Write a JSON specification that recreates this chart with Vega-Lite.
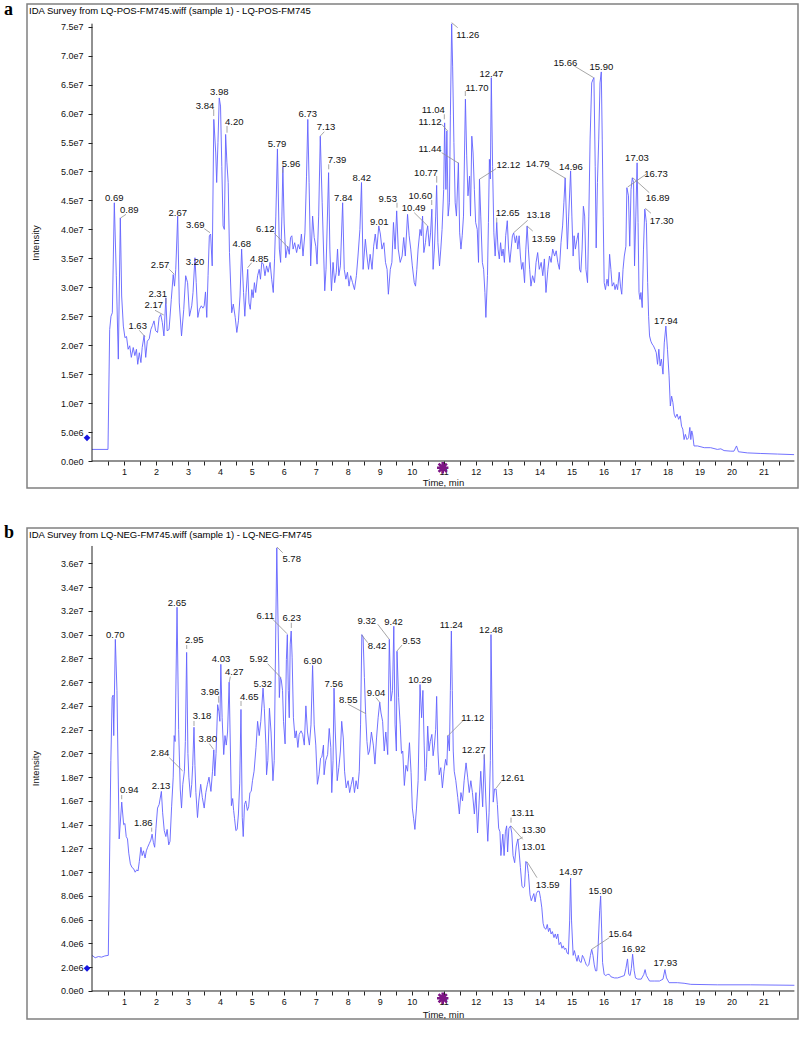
{
"$schema": "https://vega.github.io/schema/vega-lite/v6.json",
"background": "white",
"padding": {"left": 3, "top": 0, "right": 0, "bottom": 0},
"autosize": {"type": "pad"},
"spacing": 40,
"bounds": "flush",
"config": {
  "view": {"stroke": "#808080", "strokeWidth": 1.5},
  "font": "Liberation Sans",
  "axis": {"domain": false, "grid": false, "labelOverlap": false, "labelFlush": false, "labelFont": "Liberation Sans", "labelFontSize": 9, "labelColor": "#111", "tickColor": "#222", "tickSize": 4, "titleFont": "Liberation Sans", "titleFontSize": 9.5, "titleFontWeight": "normal", "titleColor": "#111"}
},
"datasets": {
"pos": [{"t":0,"I":0.2e7},{"t":0.5,"I":0.2e7},{"t":0.553,"I":2.27e7},{"t":0.594,"I":2.5e7},{"t":0.636,"I":2.56e7},{"t":0.698,"I":4.46e7},{"t":0.76,"I":3.2e7},{"t":0.823,"I":1.76e7},{"t":0.886,"I":4.2e7},{"t":0.928,"I":2.85e7},{"t":0.98,"I":2.33e7},{"t":1.03,"I":2.13e7},{"t":1.08,"I":2.15e7},{"t":1.13,"I":1.93e7},{"t":1.18,"I":1.99e7},{"t":1.23,"I":1.79e7},{"t":1.29,"I":1.96e7},{"t":1.34,"I":1.82e7},{"t":1.39,"I":1.93e7},{"t":1.43,"I":1.67e7},{"t":1.48,"I":1.87e7},{"t":1.53,"I":1.7e7},{"t":1.57,"I":1.96e7},{"t":1.63,"I":2.17e7},{"t":1.68,"I":1.79e7},{"t":1.73,"I":2.07e7},{"t":1.79,"I":2.11e7},{"t":1.84,"I":2.27e7},{"t":1.89,"I":2.34e7},{"t":1.94,"I":2.42e7},{"t":1.99,"I":2.25e7},{"t":2.05,"I":2.22e7},{"t":2.1,"I":2.48e7},{"t":2.15,"I":2.53e7},{"t":2.2,"I":2.39e7},{"t":2.25,"I":2.16e7},{"t":2.31,"I":2.82e7},{"t":2.35,"I":2.25e7},{"t":2.41,"I":2.27e7},{"t":2.48,"I":2.79e7},{"t":2.54,"I":3.22e7},{"t":2.58,"I":3.02e7},{"t":2.62,"I":3.31e7},{"t":2.68,"I":4.23e7},{"t":2.73,"I":2.73e7},{"t":2.8,"I":2.16e7},{"t":2.87,"I":2.62e7},{"t":2.93,"I":3.2e7},{"t":2.99,"I":3.08e7},{"t":3.05,"I":2.5e7},{"t":3.12,"I":2.68e7},{"t":3.16,"I":2.91e7},{"t":3.22,"I":3.51e7},{"t":3.26,"I":3.08e7},{"t":3.31,"I":2.48e7},{"t":3.36,"I":2.62e7},{"t":3.42,"I":2.68e7},{"t":3.47,"I":2.64e7},{"t":3.51,"I":2.68e7},{"t":3.55,"I":2.92e7},{"t":3.59,"I":2.48e7},{"t":3.63,"I":3.2e7},{"t":3.67,"I":3.89e7},{"t":3.71,"I":3.92e7},{"t":3.76,"I":3.37e7},{"t":3.81,"I":5.9e7},{"t":3.87,"I":5.32e7},{"t":3.9,"I":4.81e7},{"t":3.94,"I":5.5e7},{"t":3.98,"I":6.27e7},{"t":4.02,"I":6.13e7},{"t":4.06,"I":5.09e7},{"t":4.1,"I":4.06e7},{"t":4.14,"I":4.0e7},{"t":4.18,"I":5.64e7},{"t":4.22,"I":5.15e7},{"t":4.26,"I":4.81e7},{"t":4.3,"I":3.6e7},{"t":4.37,"I":2.56e7},{"t":4.42,"I":2.71e7},{"t":4.48,"I":2.48e7},{"t":4.53,"I":2.22e7},{"t":4.58,"I":2.42e7},{"t":4.63,"I":2.85e7},{"t":4.68,"I":3.66e7},{"t":4.74,"I":2.91e7},{"t":4.78,"I":2.5e7},{"t":4.82,"I":2.91e7},{"t":4.87,"I":3.31e7},{"t":4.91,"I":2.73e7},{"t":4.95,"I":2.62e7},{"t":5.0,"I":2.96e7},{"t":5.04,"I":2.82e7},{"t":5.08,"I":3.08e7},{"t":5.12,"I":2.91e7},{"t":5.18,"I":3.2e7},{"t":5.23,"I":3.31e7},{"t":5.27,"I":3.14e7},{"t":5.31,"I":3.43e7},{"t":5.36,"I":3.4e7},{"t":5.41,"I":3.2e7},{"t":5.46,"I":3.37e7},{"t":5.51,"I":3.26e7},{"t":5.57,"I":3.43e7},{"t":5.62,"I":3.14e7},{"t":5.67,"I":2.91e7},{"t":5.71,"I":3.49e7},{"t":5.75,"I":4.23e7},{"t":5.8,"I":5.39e7},{"t":5.86,"I":3.66e7},{"t":5.9,"I":3.43e7},{"t":5.94,"I":4.23e7},{"t":5.97,"I":5.08e7},{"t":6.01,"I":4.11e7},{"t":6.06,"I":3.51e7},{"t":6.12,"I":3.71e7},{"t":6.17,"I":3.57e7},{"t":6.21,"I":3.86e7},{"t":6.25,"I":3.89e7},{"t":6.29,"I":3.66e7},{"t":6.34,"I":3.77e7},{"t":6.4,"I":3.6e7},{"t":6.45,"I":3.74e7},{"t":6.5,"I":3.66e7},{"t":6.55,"I":3.92e7},{"t":6.6,"I":3.54e7},{"t":6.66,"I":3.94e7},{"t":6.71,"I":4.92e7},{"t":6.75,"I":5.9e7},{"t":6.79,"I":4.81e7},{"t":6.84,"I":3.37e7},{"t":6.9,"I":4.23e7},{"t":6.95,"I":3.86e7},{"t":7.0,"I":3.71e7},{"t":7.04,"I":3.4e7},{"t":7.09,"I":4.23e7},{"t":7.14,"I":5.61e7},{"t":7.2,"I":4.46e7},{"t":7.28,"I":2.94e7},{"t":7.32,"I":3.31e7},{"t":7.4,"I":4.98e7},{"t":7.44,"I":3.66e7},{"t":7.49,"I":2.94e7},{"t":7.54,"I":3.43e7},{"t":7.59,"I":3.08e7},{"t":7.64,"I":3.26e7},{"t":7.68,"I":3.66e7},{"t":7.72,"I":3.2e7},{"t":7.77,"I":3.37e7},{"t":7.84,"I":4.46e7},{"t":7.89,"I":3.31e7},{"t":7.94,"I":3.14e7},{"t":7.99,"I":3.26e7},{"t":8.04,"I":3.02e7},{"t":8.09,"I":3.2e7},{"t":8.15,"I":3.08e7},{"t":8.21,"I":2.96e7},{"t":8.27,"I":3.2e7},{"t":8.32,"I":3.54e7},{"t":8.38,"I":4.0e7},{"t":8.43,"I":4.81e7},{"t":8.48,"I":3.31e7},{"t":8.55,"I":3.83e7},{"t":8.6,"I":3.54e7},{"t":8.65,"I":3.31e7},{"t":8.7,"I":3.57e7},{"t":8.76,"I":3.31e7},{"t":8.81,"I":3.71e7},{"t":8.86,"I":3.92e7},{"t":8.91,"I":3.66e7},{"t":8.97,"I":4.06e7},{"t":9.02,"I":3.92e7},{"t":9.07,"I":3.66e7},{"t":9.13,"I":3.77e7},{"t":9.18,"I":3.43e7},{"t":9.23,"I":3.31e7},{"t":9.27,"I":2.88e7},{"t":9.33,"I":3.31e7},{"t":9.38,"I":3.43e7},{"t":9.43,"I":4.12e7},{"t":9.48,"I":3.66e7},{"t":9.53,"I":4.32e7},{"t":9.58,"I":3.66e7},{"t":9.64,"I":3.43e7},{"t":9.7,"I":3.54e7},{"t":9.75,"I":3.86e7},{"t":9.8,"I":3.54e7},{"t":9.87,"I":4.26e7},{"t":9.92,"I":3.89e7},{"t":9.97,"I":3.66e7},{"t":10.02,"I":3.37e7},{"t":10.08,"I":3.08e7},{"t":10.12,"I":3.02e7},{"t":10.16,"I":3.31e7},{"t":10.2,"I":3.66e7},{"t":10.26,"I":4.0e7},{"t":10.3,"I":3.89e7},{"t":10.34,"I":4.23e7},{"t":10.38,"I":3.6e7},{"t":10.43,"I":3.77e7},{"t":10.46,"I":3.94e7},{"t":10.5,"I":4.06e7},{"t":10.55,"I":3.71e7},{"t":10.59,"I":3.94e7},{"t":10.63,"I":4.35e7},{"t":10.67,"I":3.31e7},{"t":10.71,"I":3.66e7},{"t":10.75,"I":4.23e7},{"t":10.78,"I":4.76e7},{"t":10.82,"I":3.77e7},{"t":10.87,"I":3.37e7},{"t":10.91,"I":3.66e7},{"t":10.95,"I":4.0e7},{"t":11.0,"I":4.69e7},{"t":11.03,"I":5.84e7},{"t":11.07,"I":4.69e7},{"t":11.1,"I":5.7e7},{"t":11.14,"I":4.23e7},{"t":11.18,"I":4.46e7},{"t":11.21,"I":5.96e7},{"t":11.25,"I":7.55e7},{"t":11.28,"I":6.82e7},{"t":11.32,"I":5.5e7},{"t":11.36,"I":4.46e7},{"t":11.4,"I":4.23e7},{"t":11.46,"I":5.15e7},{"t":11.5,"I":3.94e7},{"t":11.54,"I":3.66e7},{"t":11.58,"I":3.89e7},{"t":11.62,"I":4.23e7},{"t":11.68,"I":6.25e7},{"t":11.72,"I":5.27e7},{"t":11.76,"I":4.58e7},{"t":11.81,"I":4.92e7},{"t":11.84,"I":4.23e7},{"t":11.88,"I":5.61e7},{"t":11.92,"I":5.32e7},{"t":11.96,"I":4.69e7},{"t":12.0,"I":4.12e7},{"t":12.05,"I":4.0e7},{"t":12.09,"I":3.43e7},{"t":12.12,"I":4.87e7},{"t":12.16,"I":4.23e7},{"t":12.21,"I":3.43e7},{"t":12.25,"I":3.31e7},{"t":12.29,"I":2.91e7},{"t":12.32,"I":2.48e7},{"t":12.37,"I":3.2e7},{"t":12.4,"I":4.12e7},{"t":12.43,"I":5.21e7},{"t":12.46,"I":4.87e7},{"t":12.49,"I":6.62e7},{"t":12.53,"I":5.09e7},{"t":12.57,"I":3.94e7},{"t":12.61,"I":3.54e7},{"t":12.66,"I":4.12e7},{"t":12.7,"I":3.66e7},{"t":12.74,"I":3.49e7},{"t":12.78,"I":3.77e7},{"t":12.82,"I":3.54e7},{"t":12.86,"I":3.66e7},{"t":12.9,"I":3.43e7},{"t":12.94,"I":3.89e7},{"t":12.99,"I":4.15e7},{"t":13.03,"I":3.66e7},{"t":13.07,"I":3.43e7},{"t":13.11,"I":3.66e7},{"t":13.15,"I":3.89e7},{"t":13.19,"I":3.94e7},{"t":13.24,"I":3.77e7},{"t":13.28,"I":3.89e7},{"t":13.32,"I":3.66e7},{"t":13.36,"I":3.89e7},{"t":13.4,"I":3.54e7},{"t":13.44,"I":3.31e7},{"t":13.48,"I":3.43e7},{"t":13.53,"I":3.08e7},{"t":13.57,"I":3.66e7},{"t":13.61,"I":4.06e7},{"t":13.65,"I":3.66e7},{"t":13.69,"I":3.31e7},{"t":13.73,"I":3.02e7},{"t":13.78,"I":3.2e7},{"t":13.84,"I":3.08e7},{"t":13.89,"I":3.43e7},{"t":13.94,"I":3.6e7},{"t":13.99,"I":3.31e7},{"t":14.05,"I":3.43e7},{"t":14.1,"I":3.2e7},{"t":14.15,"I":3.49e7},{"t":14.2,"I":2.91e7},{"t":14.26,"I":3.31e7},{"t":14.31,"I":3.54e7},{"t":14.36,"I":3.43e7},{"t":14.41,"I":3.66e7},{"t":14.47,"I":3.54e7},{"t":14.52,"I":3.63e7},{"t":14.57,"I":3.43e7},{"t":14.62,"I":3.31e7},{"t":14.67,"I":3.77e7},{"t":14.72,"I":4.06e7},{"t":14.76,"I":4.46e7},{"t":14.8,"I":4.89e7},{"t":14.87,"I":3.66e7},{"t":14.91,"I":4.23e7},{"t":14.97,"I":5.01e7},{"t":15.01,"I":4.23e7},{"t":15.05,"I":3.54e7},{"t":15.08,"I":3.89e7},{"t":15.12,"I":3.66e7},{"t":15.17,"I":3.83e7},{"t":15.21,"I":3.94e7},{"t":15.25,"I":3.31e7},{"t":15.29,"I":3.26e7},{"t":15.33,"I":3.66e7},{"t":15.37,"I":4.4e7},{"t":15.41,"I":4.23e7},{"t":15.45,"I":3.31e7},{"t":15.5,"I":3.08e7},{"t":15.54,"I":4.23e7},{"t":15.58,"I":5.56e7},{"t":15.63,"I":6.53e7},{"t":15.67,"I":6.59e7},{"t":15.7,"I":6.62e7},{"t":15.74,"I":5.09e7},{"t":15.77,"I":3.68e7},{"t":15.81,"I":4.81e7},{"t":15.85,"I":5.56e7},{"t":15.89,"I":6.53e7},{"t":15.93,"I":6.72e7},{"t":15.96,"I":5.56e7},{"t":15.99,"I":4.23e7},{"t":16.02,"I":3.08e7},{"t":16.06,"I":2.96e7},{"t":16.11,"I":3.14e7},{"t":16.15,"I":3.02e7},{"t":16.19,"I":3.57e7},{"t":16.23,"I":3.31e7},{"t":16.27,"I":3.02e7},{"t":16.32,"I":3.08e7},{"t":16.36,"I":2.96e7},{"t":16.4,"I":3.05e7},{"t":16.44,"I":2.96e7},{"t":16.49,"I":3.26e7},{"t":16.53,"I":3.02e7},{"t":16.57,"I":2.88e7},{"t":16.61,"I":3.31e7},{"t":16.65,"I":3.54e7},{"t":16.7,"I":3.71e7},{"t":16.73,"I":4.72e7},{"t":16.78,"I":4.58e7},{"t":16.82,"I":3.71e7},{"t":16.86,"I":4.69e7},{"t":16.9,"I":4.89e7},{"t":16.94,"I":4.81e7},{"t":16.97,"I":3.37e7},{"t":17.01,"I":4.23e7},{"t":17.05,"I":5.15e7},{"t":17.08,"I":4.12e7},{"t":17.11,"I":2.91e7},{"t":17.14,"I":2.79e7},{"t":17.17,"I":2.91e7},{"t":17.21,"I":2.65e7},{"t":17.25,"I":3.66e7},{"t":17.29,"I":4.35e7},{"t":17.34,"I":4.12e7},{"t":17.38,"I":3.08e7},{"t":17.41,"I":2.5e7},{"t":17.44,"I":2.16e7},{"t":17.48,"I":2.07e7},{"t":17.52,"I":2.02e7},{"t":17.56,"I":1.99e7},{"t":17.61,"I":1.93e7},{"t":17.65,"I":1.87e7},{"t":17.69,"I":1.67e7},{"t":17.73,"I":1.93e7},{"t":17.77,"I":1.64e7},{"t":17.81,"I":1.76e7},{"t":17.86,"I":1.5e7},{"t":17.9,"I":2.04e7},{"t":17.95,"I":2.33e7},{"t":18.0,"I":1.93e7},{"t":18.05,"I":1.47e7},{"t":18.09,"I":0.95e7},{"t":18.13,"I":1.12e7},{"t":18.17,"I":1.01e7},{"t":18.21,"I":0.81e7},{"t":18.25,"I":0.75e7},{"t":18.3,"I":0.81e7},{"t":18.35,"I":0.72e7},{"t":18.4,"I":0.78e7},{"t":18.44,"I":0.6e7},{"t":18.48,"I":0.55e7},{"t":18.52,"I":0.37e7},{"t":18.56,"I":0.46e7},{"t":18.61,"I":0.37e7},{"t":18.66,"I":0.4e7},{"t":18.7,"I":0.58e7},{"t":18.73,"I":0.37e7},{"t":18.76,"I":0.52e7},{"t":18.79,"I":0.45e7},{"t":18.83,"I":0.26e7},{"t":18.94,"I":0.26e7},{"t":19.15,"I":0.23e7},{"t":19.35,"I":0.23e7},{"t":19.56,"I":0.2e7},{"t":19.67,"I":0.21e7},{"t":19.77,"I":0.18e7},{"t":19.98,"I":0.17e7},{"t":20.08,"I":0.17e7},{"t":20.16,"I":0.26e7},{"t":20.22,"I":0.16e7},{"t":20.5,"I":0.14e7},{"t":20.92,"I":0.13e7},{"t":21.44,"I":0.12e7},{"t":21.96,"I":0.11e7}],
"neg": [{"t":0,"I":0.3e7},{"t":0.1,"I":0.28e7},{"t":0.2,"I":0.29e7},{"t":0.3,"I":0.285e7},{"t":0.4,"I":0.295e7},{"t":0.51,"I":0.3e7},{"t":0.59,"I":1.94e7},{"t":0.63,"I":2.47e7},{"t":0.66,"I":2.49e7},{"t":0.68,"I":2.15e7},{"t":0.73,"I":2.96e7},{"t":0.78,"I":2.53e7},{"t":0.85,"I":1.28e7},{"t":0.93,"I":1.59e7},{"t":0.99,"I":1.4e7},{"t":1.03,"I":1.41e7},{"t":1.07,"I":1.3e7},{"t":1.11,"I":1.28e7},{"t":1.15,"I":1.16e7},{"t":1.2,"I":1.07e7},{"t":1.25,"I":1.04e7},{"t":1.3,"I":1.03e7},{"t":1.35,"I":1.0e7},{"t":1.4,"I":1.02e7},{"t":1.44,"I":1.01e7},{"t":1.48,"I":1.09e7},{"t":1.53,"I":1.21e7},{"t":1.57,"I":1.14e7},{"t":1.61,"I":1.18e7},{"t":1.66,"I":1.12e7},{"t":1.7,"I":1.18e7},{"t":1.74,"I":1.21e7},{"t":1.79,"I":1.24e7},{"t":1.84,"I":1.27e7},{"t":1.88,"I":1.32e7},{"t":1.92,"I":1.25e7},{"t":1.96,"I":1.21e7},{"t":2.0,"I":1.37e7},{"t":2.05,"I":1.54e7},{"t":2.1,"I":1.57e7},{"t":2.17,"I":1.68e7},{"t":2.21,"I":1.5e7},{"t":2.26,"I":1.35e7},{"t":2.31,"I":1.3e7},{"t":2.35,"I":1.36e7},{"t":2.4,"I":1.23e7},{"t":2.44,"I":1.26e7},{"t":2.49,"I":1.55e7},{"t":2.54,"I":1.8e7},{"t":2.57,"I":2.15e7},{"t":2.6,"I":2.1e7},{"t":2.66,"I":3.23e7},{"t":2.71,"I":2.2e7},{"t":2.76,"I":1.7e7},{"t":2.8,"I":1.54e7},{"t":2.84,"I":1.74e7},{"t":2.89,"I":1.85e7},{"t":2.92,"I":2.1e7},{"t":2.96,"I":2.85e7},{"t":3.0,"I":2.0e7},{"t":3.03,"I":1.8e7},{"t":3.08,"I":1.63e7},{"t":3.12,"I":1.74e7},{"t":3.15,"I":1.9e7},{"t":3.19,"I":2.22e7},{"t":3.22,"I":1.9e7},{"t":3.25,"I":1.67e7},{"t":3.3,"I":1.46e7},{"t":3.34,"I":1.6e7},{"t":3.4,"I":1.74e7},{"t":3.45,"I":1.63e7},{"t":3.51,"I":1.54e7},{"t":3.56,"I":1.67e7},{"t":3.61,"I":1.74e7},{"t":3.66,"I":1.8e7},{"t":3.72,"I":1.68e7},{"t":3.77,"I":1.85e7},{"t":3.81,"I":2.03e7},{"t":3.84,"I":1.81e7},{"t":3.88,"I":2.0e7},{"t":3.93,"I":2.41e7},{"t":3.97,"I":2.35e7},{"t":4.0,"I":2.27e7},{"t":4.03,"I":2.75e7},{"t":4.07,"I":2.3e7},{"t":4.12,"I":1.99e7},{"t":4.16,"I":2.15e7},{"t":4.2,"I":2.07e7},{"t":4.24,"I":2.18e7},{"t":4.29,"I":2.6e7},{"t":4.33,"I":2.02e7},{"t":4.36,"I":1.56e7},{"t":4.4,"I":1.62e7},{"t":4.43,"I":1.52e7},{"t":4.46,"I":1.45e7},{"t":4.5,"I":1.35e7},{"t":4.54,"I":1.36e7},{"t":4.58,"I":1.49e7},{"t":4.62,"I":1.75e7},{"t":4.66,"I":2.37e7},{"t":4.7,"I":1.46e7},{"t":4.73,"I":1.3e7},{"t":4.77,"I":1.57e7},{"t":4.81,"I":1.6e7},{"t":4.86,"I":1.52e7},{"t":4.9,"I":1.55e7},{"t":4.94,"I":1.67e7},{"t":4.98,"I":1.68e7},{"t":5.02,"I":1.77e7},{"t":5.07,"I":1.85e7},{"t":5.13,"I":2.05e7},{"t":5.18,"I":2.27e7},{"t":5.23,"I":2.15e7},{"t":5.28,"I":2.27e7},{"t":5.35,"I":2.55e7},{"t":5.39,"I":2.38e7},{"t":5.44,"I":2.07e7},{"t":5.46,"I":1.82e7},{"t":5.5,"I":1.94e7},{"t":5.55,"I":2.38e7},{"t":5.6,"I":2.18e7},{"t":5.66,"I":1.77e7},{"t":5.7,"I":1.94e7},{"t":5.75,"I":3.09e7},{"t":5.78,"I":3.73e7},{"t":5.82,"I":3.09e7},{"t":5.86,"I":2.47e7},{"t":5.89,"I":2.64e7},{"t":5.92,"I":2.62e7},{"t":5.96,"I":2.53e7},{"t":5.99,"I":2.27e7},{"t":6.04,"I":2.08e7},{"t":6.08,"I":2.79e7},{"t":6.11,"I":3.0e7},{"t":6.14,"I":2.53e7},{"t":6.17,"I":2.3e7},{"t":6.2,"I":2.92e7},{"t":6.23,"I":3.03e7},{"t":6.26,"I":2.81e7},{"t":6.3,"I":2.3e7},{"t":6.35,"I":2.13e7},{"t":6.39,"I":2.19e7},{"t":6.44,"I":2.05e7},{"t":6.48,"I":2.16e7},{"t":6.54,"I":2.19e7},{"t":6.59,"I":2.16e7},{"t":6.64,"I":2.07e7},{"t":6.69,"I":2.4e7},{"t":6.74,"I":2.18e7},{"t":6.8,"I":2.07e7},{"t":6.85,"I":2.24e7},{"t":6.9,"I":2.74e7},{"t":6.95,"I":2.24e7},{"t":7.0,"I":2.07e7},{"t":7.05,"I":1.74e7},{"t":7.1,"I":1.82e7},{"t":7.15,"I":1.96e7},{"t":7.19,"I":1.97e7},{"t":7.24,"I":2.07e7},{"t":7.26,"I":1.82e7},{"t":7.31,"I":1.94e7},{"t":7.37,"I":1.99e7},{"t":7.42,"I":2.21e7},{"t":7.47,"I":2.05e7},{"t":7.5,"I":1.67e7},{"t":7.54,"I":1.94e7},{"t":7.57,"I":2.55e7},{"t":7.61,"I":2.18e7},{"t":7.67,"I":1.77e7},{"t":7.72,"I":1.88e7},{"t":7.77,"I":2.02e7},{"t":7.81,"I":2.27e7},{"t":7.86,"I":2.13e7},{"t":7.9,"I":1.85e7},{"t":7.95,"I":1.71e7},{"t":8.01,"I":1.77e7},{"t":8.06,"I":1.67e7},{"t":8.11,"I":1.74e7},{"t":8.16,"I":1.8e7},{"t":8.21,"I":1.67e7},{"t":8.26,"I":1.77e7},{"t":8.31,"I":1.7e7},{"t":8.36,"I":1.85e7},{"t":8.4,"I":2.24e7},{"t":8.44,"I":3.0e7},{"t":8.48,"I":2.98e7},{"t":8.52,"I":2.64e7},{"t":8.56,"I":2.33e7},{"t":8.6,"I":2.1e7},{"t":8.64,"I":1.99e7},{"t":8.68,"I":2.02e7},{"t":8.74,"I":2.18e7},{"t":8.8,"I":2.07e7},{"t":8.85,"I":1.91e7},{"t":8.9,"I":2.13e7},{"t":8.95,"I":2.3e7},{"t":9.0,"I":2.43e7},{"t":9.04,"I":2.34e7},{"t":9.09,"I":2.27e7},{"t":9.14,"I":2.02e7},{"t":9.19,"I":2.18e7},{"t":9.25,"I":1.99e7},{"t":9.3,"I":2.96e7},{"t":9.35,"I":2.44e7},{"t":9.4,"I":2.53e7},{"t":9.44,"I":3.07e7},{"t":9.48,"I":2.24e7},{"t":9.52,"I":2.02e7},{"t":9.54,"I":2.86e7},{"t":9.59,"I":2.47e7},{"t":9.64,"I":2.24e7},{"t":9.68,"I":2.0e7},{"t":9.72,"I":2.02e7},{"t":9.77,"I":1.73e7},{"t":9.82,"I":1.9e7},{"t":9.87,"I":1.85e7},{"t":9.93,"I":2.09e7},{"t":9.98,"I":1.84e7},{"t":10.02,"I":1.54e7},{"t":10.06,"I":1.45e7},{"t":10.1,"I":1.36e7},{"t":10.15,"I":1.54e7},{"t":10.2,"I":1.77e7},{"t":10.26,"I":2.58e7},{"t":10.31,"I":2.3e7},{"t":10.35,"I":2.53e7},{"t":10.39,"I":2.07e7},{"t":10.42,"I":1.77e7},{"t":10.46,"I":1.88e7},{"t":10.5,"I":2.23e7},{"t":10.54,"I":2.02e7},{"t":10.58,"I":2.1e7},{"t":10.63,"I":2.16e7},{"t":10.67,"I":1.98e7},{"t":10.71,"I":2.07e7},{"t":10.75,"I":2.2e7},{"t":10.78,"I":2.48e7},{"t":10.82,"I":2.02e7},{"t":10.86,"I":1.82e7},{"t":10.91,"I":1.88e7},{"t":10.96,"I":1.71e7},{"t":11.01,"I":1.85e7},{"t":11.06,"I":1.95e7},{"t":11.1,"I":1.9e7},{"t":11.13,"I":2.15e7},{"t":11.18,"I":2.02e7},{"t":11.21,"I":2.53e7},{"t":11.24,"I":3.03e7},{"t":11.27,"I":2.53e7},{"t":11.3,"I":2.02e7},{"t":11.33,"I":1.85e7},{"t":11.38,"I":1.77e7},{"t":11.44,"I":1.63e7},{"t":11.49,"I":1.49e7},{"t":11.54,"I":1.67e7},{"t":11.59,"I":1.6e7},{"t":11.64,"I":1.77e7},{"t":11.7,"I":1.92e7},{"t":11.75,"I":1.8e7},{"t":11.8,"I":1.67e7},{"t":11.85,"I":1.77e7},{"t":11.9,"I":1.67e7},{"t":11.96,"I":1.49e7},{"t":12.01,"I":1.67e7},{"t":12.06,"I":1.33e7},{"t":12.11,"I":1.6e7},{"t":12.16,"I":1.85e7},{"t":12.22,"I":1.55e7},{"t":12.27,"I":1.99e7},{"t":12.32,"I":1.6e7},{"t":12.38,"I":1.26e7},{"t":12.42,"I":1.5e7},{"t":12.46,"I":1.94e7},{"t":12.48,"I":3.0e7},{"t":12.52,"I":2.2e7},{"t":12.55,"I":1.59e7},{"t":12.59,"I":1.7e7},{"t":12.64,"I":1.7e7},{"t":12.68,"I":1.57e7},{"t":12.72,"I":1.37e7},{"t":12.76,"I":1.34e7},{"t":12.79,"I":1.14e7},{"t":12.85,"I":1.32e7},{"t":12.89,"I":1.14e7},{"t":12.93,"I":1.34e7},{"t":12.97,"I":1.39e7},{"t":13.0,"I":1.17e7},{"t":13.04,"I":1.37e7},{"t":13.09,"I":1.39e7},{"t":13.13,"I":1.33e7},{"t":13.17,"I":1.14e7},{"t":13.22,"I":1.08e7},{"t":13.27,"I":1.22e7},{"t":13.32,"I":1.28e7},{"t":13.36,"I":1.17e7},{"t":13.4,"I":1.04e7},{"t":13.45,"I":0.88e7},{"t":13.49,"I":0.87e7},{"t":13.53,"I":0.88e7},{"t":13.57,"I":1.09e7},{"t":13.61,"I":1.07e7},{"t":13.65,"I":0.99e7},{"t":13.7,"I":0.81e7},{"t":13.74,"I":0.76e7},{"t":13.78,"I":0.79e7},{"t":13.82,"I":0.82e7},{"t":13.86,"I":0.75e7},{"t":13.9,"I":0.82e7},{"t":13.94,"I":0.84e7},{"t":13.99,"I":0.84e7},{"t":14.03,"I":0.78e7},{"t":14.07,"I":0.7e7},{"t":14.11,"I":0.57e7},{"t":14.15,"I":0.53e7},{"t":14.2,"I":0.52e7},{"t":14.24,"I":0.56e7},{"t":14.28,"I":0.5e7},{"t":14.32,"I":0.53e7},{"t":14.36,"I":0.48e7},{"t":14.4,"I":0.5e7},{"t":14.45,"I":0.45e7},{"t":14.49,"I":0.48e7},{"t":14.53,"I":0.44e7},{"t":14.57,"I":0.48e7},{"t":14.61,"I":0.39e7},{"t":14.66,"I":0.41e7},{"t":14.7,"I":0.36e7},{"t":14.74,"I":0.38e7},{"t":14.78,"I":0.35e7},{"t":14.82,"I":0.36e7},{"t":14.86,"I":0.32e7},{"t":14.9,"I":0.31e7},{"t":14.94,"I":0.59e7},{"t":14.97,"I":0.95e7},{"t":15.0,"I":0.59e7},{"t":15.05,"I":0.3e7},{"t":15.09,"I":0.34e7},{"t":15.13,"I":0.29e7},{"t":15.17,"I":0.25e7},{"t":15.21,"I":0.3e7},{"t":15.25,"I":0.25e7},{"t":15.3,"I":0.24e7},{"t":15.34,"I":0.3e7},{"t":15.38,"I":0.28e7},{"t":15.42,"I":0.25e7},{"t":15.46,"I":0.22e7},{"t":15.5,"I":0.21e7},{"t":15.54,"I":0.22e7},{"t":15.59,"I":0.3e7},{"t":15.63,"I":0.35e7},{"t":15.67,"I":0.3e7},{"t":15.71,"I":0.22e7},{"t":15.75,"I":0.17e7},{"t":15.79,"I":0.17e7},{"t":15.83,"I":0.37e7},{"t":15.88,"I":0.68e7},{"t":15.91,"I":0.8e7},{"t":15.94,"I":0.53e7},{"t":15.97,"I":0.24e7},{"t":16.02,"I":0.14e7},{"t":16.07,"I":0.13e7},{"t":16.13,"I":0.14e7},{"t":16.18,"I":0.14e7},{"t":16.23,"I":0.12e7},{"t":16.34,"I":0.11e7},{"t":16.44,"I":0.11e7},{"t":16.55,"I":0.12e7},{"t":16.65,"I":0.13e7},{"t":16.7,"I":0.19e7},{"t":16.75,"I":0.27e7},{"t":16.79,"I":0.14e7},{"t":16.83,"I":0.13e7},{"t":16.87,"I":0.19e7},{"t":16.91,"I":0.31e7},{"t":16.96,"I":0.17e7},{"t":17.0,"I":0.11e7},{"t":17.07,"I":0.1e7},{"t":17.18,"I":0.1e7},{"t":17.26,"I":0.14e7},{"t":17.3,"I":0.18e7},{"t":17.34,"I":0.13e7},{"t":17.44,"I":0.084e7},{"t":17.6,"I":0.084e7},{"t":17.75,"I":0.084e7},{"t":17.86,"I":0.1e7},{"t":17.92,"I":0.18e7},{"t":17.97,"I":0.11e7},{"t":18.05,"I":0.07e7},{"t":18.31,"I":0.07e7},{"t":18.52,"I":0.065e7},{"t":18.73,"I":0.056e7},{"t":19.56,"I":0.052e7},{"t":20.6,"I":0.052e7},{"t":21.97,"I":0.048e7}],
"posLabels": [{"label":"0.69","lt":0.698,"lI":4.548e7},{"label":"0.89","lt":1.167,"lI":4.335e7,"x1":0.907,"y1":4.202e7,"x2":1.063,"y2":4.26e7},{"label":"1.63","lt":1.429,"lI":2.332e7,"x1":1.48,"y1":2.257e7,"x2":1.658,"y2":2.147e7},{"label":"2.17","lt":1.93,"lI":2.689e7,"x1":1.971,"y1":2.603e7,"x2":2.243,"y2":2.522e7},{"label":"2.31","lt":2.055,"lI":2.879e7,"x1":2.315,"y1":2.815e7,"x2":2.315,"y2":2.717e7},{"label":"2.57","lt":2.127,"lI":3.385e7,"x1":2.418,"y1":3.311e7,"x2":2.574,"y2":3.225e7},{"label":"2.67","lt":2.681,"lI":4.288e7},{"label":"3.20","lt":3.222,"lI":3.437e7},{"label":"3.69","lt":3.231,"lI":4.071e7,"x1":3.513,"y1":4.012e7,"x2":3.691,"y2":3.943e7},{"label":"3.84","lt":3.535,"lI":6.126e7,"x1":3.807,"y1":6.074e7,"x2":3.807,"y2":5.959e7},{"label":"3.98","lt":3.982,"lI":6.378e7},{"label":"4.20","lt":4.451,"lI":5.86e7,"x1":4.223,"y1":5.786e7,"x2":4.223,"y2":5.67e7},{"label":"4.68","lt":4.683,"lI":3.743e7},{"label":"4.85","lt":5.233,"lI":3.494e7,"x1":4.995,"y1":3.425e7,"x2":4.87,"y2":3.339e7},{"label":"5.79","lt":5.787,"lI":5.47e7},{"label":"5.96","lt":6.225,"lI":5.135e7,"x1":5.965,"y1":5.066e7,"x2":5.965,"y2":4.979e7},{"label":"6.12","lt":5.421,"lI":4.002e7,"x1":5.702,"y1":3.933e7,"x2":6.14,"y2":3.684e7},{"label":"6.73","lt":6.747,"lI":5.998e7},{"label":"7.13","lt":7.319,"lI":5.774e7,"x1":7.141,"y1":5.613e7,"x2":7.266,"y2":5.687e7},{"label":"7.39","lt":7.663,"lI":5.204e7,"x1":7.404,"y1":5.124e7,"x2":7.404,"y2":5.038e7},{"label":"7.84","lt":7.86,"lI":4.548e7},{"label":"8.42","lt":8.436,"lI":4.893e7},{"label":"9.01","lt":8.987,"lI":4.128e7},{"label":"9.53","lt":9.249,"lI":4.53e7,"x1":9.54,"y1":4.461e7,"x2":9.54,"y2":4.375e7},{"label":"10.49","lt":10.063,"lI":4.364e7,"x1":10.081,"y1":4.288e7,"x2":10.5,"y2":4.059e7},{"label":"10.60","lt":10.269,"lI":4.577e7,"x1":10.626,"y1":4.508e7,"x2":10.626,"y2":4.421e7},{"label":"10.77","lt":10.447,"lI":4.969e7,"x1":10.782,"y1":4.922e7,"x2":10.782,"y2":4.807e7},{"label":"11.04","lt":10.676,"lI":6.062e7,"x1":11.02,"y1":5.988e7,"x2":11.02,"y2":5.902e7},{"label":"11.12","lt":10.573,"lI":5.85e7,"x1":10.938,"y1":5.815e7,"x2":11.126,"y2":5.699e7},{"label":"11.26","lt":11.752,"lI":7.358e7,"x1":11.251,"y1":7.57e7,"x2":11.439,"y2":7.484e7},{"label":"11.44","lt":10.573,"lI":5.394e7,"x1":10.938,"y1":5.325e7,"x2":11.47,"y2":5.142e7},{"label":"11.70","lt":12.043,"lI":6.442e7,"x1":11.677,"y1":6.39e7,"x2":11.677,"y2":6.304e7},{"label":"12.12","lt":13.022,"lI":5.107e7,"x1":12.637,"y1":5.048e7,"x2":12.115,"y2":4.865e7},{"label":"12.47","lt":12.49,"lI":6.679e7},{"label":"12.65","lt":13.003,"lI":4.288e7,"x1":12.659,"y1":4.202e7,"x2":12.659,"y2":4.116e7},{"label":"13.18","lt":13.96,"lI":4.244e7,"x1":13.628,"y1":4.157e7,"x2":13.19,"y2":3.943e7},{"label":"13.59","lt":14.129,"lI":3.839e7,"x1":13.785,"y1":3.972e7,"x2":13.607,"y2":4.059e7},{"label":"14.79","lt":13.941,"lI":5.124e7,"x1":14.254,"y1":5.066e7,"x2":14.805,"y2":4.883e7},{"label":"14.96","lt":14.983,"lI":5.078e7},{"label":"15.66","lt":14.805,"lI":6.874e7,"x1":15.086,"y1":6.822e7,"x2":15.693,"y2":6.62e7},{"label":"15.90","lt":15.931,"lI":6.81e7},{"label":"16.73","lt":17.642,"lI":4.962e7,"x1":17.329,"y1":4.952e7,"x2":16.756,"y2":4.732e7},{"label":"16.89","lt":17.695,"lI":4.537e7,"x1":17.432,"y1":4.634e7,"x2":16.913,"y2":4.893e7},{"label":"17.03","lt":17.047,"lI":5.238e7},{"label":"17.30","lt":17.82,"lI":4.145e7,"x1":17.485,"y1":4.278e7,"x2":17.307,"y2":4.364e7},{"label":"17.94","lt":17.954,"lI":2.413e7}],
"negLabels": [{"label":"0.70","lt":0.729,"lI":2.997e7},{"label":"0.94","lt":1.167,"lI":1.689e7,"x1":0.929,"y1":1.65e7,"x2":0.929,"y2":1.614e7},{"label":"1.86","lt":1.605,"lI":1.417e7,"x1":1.867,"y1":1.375e7,"x2":1.867,"y2":1.341e7},{"label":"2.13","lt":2.158,"lI":1.726e7},{"label":"2.65","lt":2.659,"lI":3.269e7},{"label":"2.84","lt":2.127,"lI":2.006e7,"x1":2.418,"y1":1.964e7,"x2":2.837,"y2":1.852e7},{"label":"2.95","lt":3.2,"lI":2.952e7,"x1":2.962,"y1":2.912e7,"x2":2.962,"y2":2.879e7},{"label":"3.18","lt":3.441,"lI":2.315e7,"x1":3.19,"y1":2.273e7,"x2":3.19,"y2":2.231e7},{"label":"3.80","lt":3.619,"lI":2.124e7,"x1":3.669,"y1":2.082e7,"x2":3.8,"y2":2.035e7},{"label":"3.96","lt":3.691,"lI":2.519e7,"x1":3.963,"y1":2.483e7,"x2":3.963,"y2":2.427e7},{"label":"4.03","lt":4.035,"lI":2.792e7},{"label":"4.27","lt":4.451,"lI":2.688e7,"x1":4.326,"y1":2.646e7,"x2":4.295,"y2":2.601e7},{"label":"4.65","lt":4.92,"lI":2.475e7,"x1":4.661,"y1":2.441e7,"x2":4.661,"y2":2.399e7},{"label":"5.32","lt":5.339,"lI":2.587e7},{"label":"5.78","lt":6.246,"lI":3.634e7,"x1":5.787,"y1":3.737e7,"x2":5.965,"y2":3.689e7},{"label":"5.92","lt":5.214,"lI":2.792e7,"x1":5.496,"y1":2.755e7,"x2":5.912,"y2":2.637e7},{"label":"6.11","lt":5.421,"lI":3.157e7,"x1":5.652,"y1":3.129e7,"x2":6.099,"y2":3.008e7},{"label":"6.23","lt":6.246,"lI":3.137e7,"x1":6.234,"y1":3.1e7,"x2":6.234,"y2":3.056e7},{"label":"6.90","lt":6.903,"lI":2.778e7},{"label":"7.56","lt":7.56,"lI":2.587e7},{"label":"8.42","lt":8.915,"lI":2.904e7,"x1":8.624,"y1":2.932e7,"x2":8.436,"y2":2.997e7},{"label":"8.55","lt":8.017,"lI":2.447e7,"x1":8.017,"y1":2.413e7,"x2":8.571,"y2":2.334e7},{"label":"9.04","lt":8.883,"lI":2.511e7,"x1":8.883,"y1":2.469e7,"x2":9.008,"y2":2.427e7},{"label":"9.32","lt":8.593,"lI":3.114e7,"x1":8.937,"y1":3.087e7,"x2":9.299,"y2":2.96e7},{"label":"9.42","lt":9.431,"lI":3.109e7},{"label":"9.53","lt":9.994,"lI":2.946e7,"x1":9.697,"y1":2.912e7,"x2":9.54,"y2":2.862e7},{"label":"10.29","lt":10.26,"lI":2.62e7},{"label":"11.12","lt":11.908,"lI":2.301e7,"x1":11.595,"y1":2.273e7,"x2":11.126,"y2":2.146e7},{"label":"11.24","lt":11.239,"lI":3.078e7},{"label":"12.27","lt":11.939,"lI":2.026e7,"x1":12.271,"y1":1.992e7,"x2":12.271,"y2":1.95e7},{"label":"12.48","lt":12.48,"lI":3.039e7},{"label":"12.61","lt":13.159,"lI":1.79e7,"x1":12.793,"y1":1.762e7,"x2":12.637,"y2":1.706e7},{"label":"13.01","lt":13.816,"lI":1.215e7,"x1":13.472,"y1":1.277e7,"x2":13.106,"y2":1.389e7},{"label":"13.11","lt":13.472,"lI":1.496e7,"x1":13.106,"y1":1.459e7,"x2":13.106,"y2":1.417e7},{"label":"13.30","lt":13.816,"lI":1.353e7,"x1":13.472,"y1":1.296e7,"x2":13.316,"y2":1.269e7},{"label":"13.59","lt":14.254,"lI":0.89e7,"x1":13.919,"y1":0.954e7,"x2":13.607,"y2":1.088e7},{"label":"14.97","lt":14.983,"lI":1.002e7},{"label":"15.64","lt":16.525,"lI":0.477e7,"x1":16.181,"y1":0.449e7,"x2":15.63,"y2":0.351e7},{"label":"15.90","lt":15.899,"lI":0.842e7},{"label":"16.92","lt":16.944,"lI":0.351e7},{"label":"17.93","lt":17.933,"lI":0.236e7}],
"posAxes": [{"t0":0,"t1":21.97,"I0":0,"I1":0},{"t0":0,"t1":0,"I0":0,"I1":7.553e7}],
"negAxes": [{"t0":0,"t1":21.97,"I0":0,"I1":0},{"t0":0,"t1":0,"I0":0,"I1":3.746e7}],
"posTitle": [{"t":-1.9707,"I":7.767e7,"txt":"IDA Survey from LQ-POS-FM745.wiff (sample 1) - LQ-POS-FM745"}],
"negTitle": [{"t":-1.9707,"I":3.841e7,"txt":"IDA Survey from LQ-NEG-FM745.wiff (sample 1) - LQ-NEG-FM745"}],
"posLetter": [{"t":-2.7526,"I":7.9447e7,"txt":"a"}],
"negLetter": [{"t":-2.7526,"I":3.931e7,"txt":"b"}],
"posStar": [{"t":10.97,"I":-1157000}],
"negStar": [{"t":10.97,"I":-614000}],
"posArrow": [{"t":-0.156,"I":4000000}],
"negArrow": [{"t":-0.156,"I":1910000}]
},
"vconcat": [
{
  "width": 771, "height": 484,
  "layer": [
    {
      "data": {"name": "pos"},
      "mark": {"type": "line", "color": "#6262ff", "strokeWidth": 0.9},
      "encoding": {
        "x": {"field": "t", "type": "quantitative", "scale": {"domain": [-2.0332, 22.083], "nice": false, "zero": false},
              "axis": {"orient": "bottom", "offset": -27, "values": [0.5,1,1.5,2,2.5,3,3.5,4,4.5,5,5.5,6,6.5,7,7.5,8,8.5,9,9.5,10,10.5,11,11.5,12,12.5,13,13.5,14,14.5,15,15.5,16,16.5,17,17.5,18,18.5,19,19.5,20,20.5,21,21.5], "tickCount": 500, "labelOverlap": false, "labelExpr": "datum.value % 1 === 0 ? format(datum.value, 'd') : ''", "labelPadding": 2, "title": "Time, min", "titlePadding": 1, "titleX": 416}},
        "y": {"field": "I", "type": "quantitative", "scale": {"domain": [-4663000, 78929000], "nice": false, "zero": false},
              "axis": {"orient": "left", "offset": -65, "values": [0,5000000,10000000,15000000,20000000,25000000,30000000,35000000,40000000,45000000,50000000,55000000,60000000,65000000,70000000,75000000], "tickCount": 500, "labelOverlap": false, "labelExpr": "replace(format(datum.value, '.1e'), '+', '')", "labelPadding": 5, "title": "Intensity", "titlePadding": 20, "titleY": 238.5}}
      }
    },
    {
      "data": {"name": "posAxes"},
      "mark": {"type": "rule", "color": "#222", "strokeWidth": 1},
      "encoding": {
        "x": {"field": "t0", "type": "quantitative"}, "x2": {"field": "t1"},
        "y": {"field": "I0", "type": "quantitative"}, "y2": {"field": "I1"}
      }
    },
    {
      "data": {"name": "posLabels"},
      "transform": [{"filter": "isValid(datum.x1)"}],
      "mark": {"type": "rule", "color": "#8f8f8f", "strokeWidth": 0.8},
      "encoding": {
        "x": {"field": "x1", "type": "quantitative"}, "x2": {"field": "x2"},
        "y": {"field": "y1", "type": "quantitative"}, "y2": {"field": "y2"}
      }
    },
    {
      "data": {"name": "posLabels"},
      "mark": {"type": "text", "font": "Liberation Sans", "fontSize": 9.5, "color": "#111", "align": "center", "baseline": "middle"},
      "encoding": {
        "x": {"field": "lt", "type": "quantitative"},
        "y": {"field": "lI", "type": "quantitative"},
        "text": {"field": "label"}
      }
    },
    {
      "data": {"name": "posTitle"},
      "mark": {"type": "text", "font": "Liberation Sans", "fontSize": 9.5, "color": "#000", "align": "left", "baseline": "middle"},
      "encoding": {"x": {"field": "t", "type": "quantitative"}, "y": {"field": "I", "type": "quantitative"}, "text": {"field": "txt"}}
    },
    {
      "data": {"name": "posLetter"},
      "mark": {"type": "text", "font": "Liberation Serif", "fontWeight": "bold", "fontSize": 18, "color": "#000", "align": "left", "baseline": "top"},
      "encoding": {"x": {"field": "t", "type": "quantitative"}, "y": {"field": "I", "type": "quantitative"}, "text": {"field": "txt"}}
    },
    {
      "data": {"name": "posStar"},
      "mark": {"type": "point", "shape": "M0,-1L0,1M-1,0L1,0M-0.72,-0.72L0.72,0.72M-0.72,0.72L0.72,-0.72", "filled": false, "stroke": "#7d1585", "strokeWidth": 2.6, "size": 130, "opacity": 1},
      "encoding": {"x": {"field": "t", "type": "quantitative"}, "y": {"field": "I", "type": "quantitative"}}
    },
    {
      "data": {"name": "posArrow"},
      "mark": {"type": "point", "shape": "diamond", "filled": true, "color": "#1515e0", "size": 45, "opacity": 1},
      "encoding": {"x": {"field": "t", "type": "quantitative"}, "y": {"field": "I", "type": "quantitative"}}
    }
  ]
},
{
  "width": 771, "height": 491,
  "layer": [
    {
      "data": {"name": "neg"},
      "mark": {"type": "line", "color": "#6262ff", "strokeWidth": 0.9},
      "encoding": {
        "x": {"field": "t", "type": "quantitative", "scale": {"domain": [-2.0332, 22.083], "nice": false, "zero": false},
              "axis": {"orient": "bottom", "offset": -28, "values": [0.5,1,1.5,2,2.5,3,3.5,4,4.5,5,5.5,6,6.5,7,7.5,8,8.5,9,9.5,10,10.5,11,11.5,12,12.5,13,13.5,14,14.5,15,15.5,16,16.5,17,17.5,18,18.5,19,19.5,20,20.5,21,21.5], "tickCount": 500, "labelOverlap": false, "labelExpr": "datum.value % 1 === 0 ? format(datum.value, 'd') : ''", "labelPadding": 2, "title": "Time, min", "titlePadding": 3, "titleX": 416}},
        "y": {"field": "I", "type": "quantitative", "scale": {"domain": [-2357000, 38973000], "nice": false, "zero": false},
              "axis": {"orient": "left", "offset": -65, "values": [0,2000000,4000000,6000000,8000000,10000000,12000000,14000000,16000000,18000000,20000000,22000000,24000000,26000000,28000000,30000000,32000000,34000000,36000000], "tickCount": 500, "labelOverlap": false, "labelExpr": "replace(format(datum.value, '.1e'), '+', '')", "labelPadding": 5, "title": "Intensity", "titlePadding": 20, "titleY": 240}}
      }
    },
    {
      "data": {"name": "negAxes"},
      "mark": {"type": "rule", "color": "#222", "strokeWidth": 1},
      "encoding": {
        "x": {"field": "t0", "type": "quantitative"}, "x2": {"field": "t1"},
        "y": {"field": "I0", "type": "quantitative"}, "y2": {"field": "I1"}
      }
    },
    {
      "data": {"name": "negLabels"},
      "transform": [{"filter": "isValid(datum.x1)"}],
      "mark": {"type": "rule", "color": "#8f8f8f", "strokeWidth": 0.8},
      "encoding": {
        "x": {"field": "x1", "type": "quantitative"}, "x2": {"field": "x2"},
        "y": {"field": "y1", "type": "quantitative"}, "y2": {"field": "y2"}
      }
    },
    {
      "data": {"name": "negLabels"},
      "mark": {"type": "text", "font": "Liberation Sans", "fontSize": 9.5, "color": "#111", "align": "center", "baseline": "middle"},
      "encoding": {
        "x": {"field": "lt", "type": "quantitative"},
        "y": {"field": "lI", "type": "quantitative"},
        "text": {"field": "label"}
      }
    },
    {
      "data": {"name": "negTitle"},
      "mark": {"type": "text", "font": "Liberation Sans", "fontSize": 9.5, "color": "#000", "align": "left", "baseline": "middle"},
      "encoding": {"x": {"field": "t", "type": "quantitative"}, "y": {"field": "I", "type": "quantitative"}, "text": {"field": "txt"}}
    },
    {
      "data": {"name": "negLetter"},
      "mark": {"type": "text", "font": "Liberation Serif", "fontWeight": "bold", "fontSize": 18, "color": "#000", "align": "left", "baseline": "top"},
      "encoding": {"x": {"field": "t", "type": "quantitative"}, "y": {"field": "I", "type": "quantitative"}, "text": {"field": "txt"}}
    },
    {
      "data": {"name": "negStar"},
      "mark": {"type": "point", "shape": "M0,-1L0,1M-1,0L1,0M-0.72,-0.72L0.72,0.72M-0.72,0.72L0.72,-0.72", "filled": false, "stroke": "#7d1585", "strokeWidth": 2.6, "size": 130, "opacity": 1},
      "encoding": {"x": {"field": "t", "type": "quantitative"}, "y": {"field": "I", "type": "quantitative"}}
    },
    {
      "data": {"name": "negArrow"},
      "mark": {"type": "point", "shape": "diamond", "filled": true, "color": "#1515e0", "size": 45, "opacity": 1},
      "encoding": {"x": {"field": "t", "type": "quantitative"}, "y": {"field": "I", "type": "quantitative"}}
    }
  ]
}
]
}
